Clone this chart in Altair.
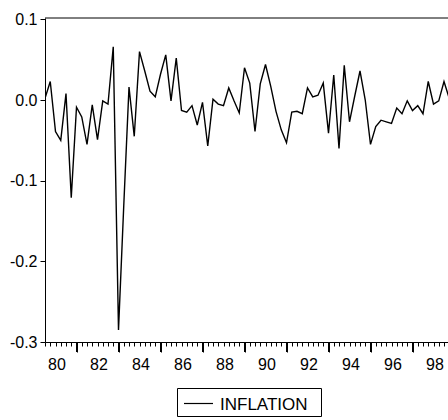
import altair as alt
import pandas as pd

# Quarterly inflation, first observation 1979Q3
start_year = 1979.5  # 1979Q3
inflation = [0.002, 0.023, -0.039, -0.050, 0.008, -0.121, -0.009, -0.021, -0.055, -0.006,
             -0.049, -0.001, -0.005, 0.066, -0.285, -0.131, 0.016, -0.045, 0.060, 0.036,
             0.011, 0.004, 0.032, 0.056, -0.001, 0.052, -0.013, -0.015, -0.007, -0.031,
             -0.003, -0.057, 0.001, -0.005, -0.007, 0.015, -0.001, -0.016, 0.040, 0.021,
             -0.039, 0.020, 0.044, 0.017, -0.014, -0.037, -0.053, -0.015, -0.014, -0.017,
             0.015, 0.004, 0.006, 0.021, -0.041, 0.031, -0.060, 0.043, -0.027, 0.005,
             0.036, 0.000, -0.055, -0.033, -0.025, -0.027, -0.029, -0.010, -0.017, -0.001,
             -0.013, -0.007, -0.017, 0.023, -0.005, -0.001, 0.023, 0.002]
series_name = "INFLATION"

y_tick_values = [-0.3, -0.2, -0.1, 0.0, 0.1]
label_years = [1980, 1982, 1984, 1986, 1988, 1990, 1992, 1994, 1996, 1998]
long_tick_years = [1981, 1983, 1985, 1987, 1989, 1991, 1993, 1995, 1997]
quarter_ticks = [start_year + 0.25 * k for k in range(77)]

periods = [start_year + 0.25 * k for k in range(len(inflation))]
df = pd.DataFrame({"t": periods, "value": inflation, "series": series_name})

W, H = 403, 324
FONT = "Liberation Sans"
x_domain = [start_year, start_year + W / 21.0]
x_scale = alt.Scale(domain=x_domain, nice=False, zero=False)
y_scale = alt.Scale(domain=[-0.3, 0.1017], nice=False, zero=False)

long_test = "indexof(" + str(long_tick_years) + ", datum.value) >= 0"

x_axis = alt.Axis(values=quarter_ticks, domain=True, ticks=True, labels=True,
                  tickSize=10, tickColor="black", tickWidth=1,
                  tickDash={"condition": {"test": long_test, "value": [10, 0]},
                            "value": [4, 20]},
                  domainColor="black", domainWidth=1, grid=False, title=None,
                  labelExpr="indexof(" + str(label_years) + ", datum.value) >= 0 ? substring(toString(datum.value), 2, 4) : ''",
                  labelOverlap=False, labelFlush=False, labelBound=False,
                  labelPadding=4, labelOffset=1, labelAngle=0,
                  labelFont=FONT, labelFontSize=16, labelColor="black", zindex=1)
y_axis = alt.Axis(values=y_tick_values, domain=True, ticks=True, labels=True,
                  tickSize=5, tickColor="black", tickWidth=1,
                  domainColor="black", domainWidth=1, grid=False, title=None,
                  labelExpr="datum.value < -0.0001 ? '-' + format(-datum.value, '.1f') : format(datum.value, '.1f')",
                  labelPadding=3, labelFont=FONT, labelFontSize=16,
                  labelColor="black", labelOverlap=False, labelFlush=False, zindex=1)

line = alt.Chart(df).mark_line(color="black", strokeWidth=1.4, clip=True).encode(
    x=alt.X("t:Q", scale=x_scale, axis=x_axis),
    y=alt.Y("value:Q", scale=y_scale, axis=y_axis),
)

# longer year ticks, on their own x scale with the very same domain
long_ticks = alt.Chart(pd.DataFrame({"year": long_tick_years})).mark_rule(
    color="black", strokeWidth=1).encode(
    x=alt.X("year:Q", scale=alt.Scale(domain=x_domain, nice=False, zero=False), axis=None),
    y=alt.value(H), y2=alt.value(H + 10))

top_border = alt.Chart(alt.Data(values=[{}])).mark_rule(
    color="black", strokeWidth=1).encode(
    x=alt.value(0), x2=alt.value(W), y=alt.value(0))

# legend drawn as a small framed key below the plot
legend_df = pd.DataFrame({"series": [series_name]})
legend_box = alt.Chart(legend_df).mark_rect(
    fill="white", stroke="black", strokeWidth=1).encode(
    x=alt.value(132.5), x2=alt.value(276.5), y=alt.value(370.5), y2=alt.value(398.5))
legend_line = alt.Chart(legend_df).mark_rule(color="black", strokeWidth=1.2).encode(
    x=alt.value(139), x2=alt.value(168), y=alt.value(385.5))
legend_text = alt.Chart(legend_df).mark_text(
    align="left", baseline="alphabetic", font=FONT, fontSize=17, color="black").encode(
    x=alt.value(175), y=alt.value(392), text="series:N")

chart = alt.layer(line, long_ticks, top_border, legend_box, legend_line, legend_text).resolve_scale(
    x="independent").resolve_axis(x="independent").properties(
    width=W, height=H,
    autosize=alt.AutoSizeParams(type="none"),
    padding={"left": 45, "top": 18, "right": 0, "bottom": 78},
    background="white",
).configure_view(stroke=None)

chart.save("out.html", embed_options={"renderer": "svg", "actions": False})
